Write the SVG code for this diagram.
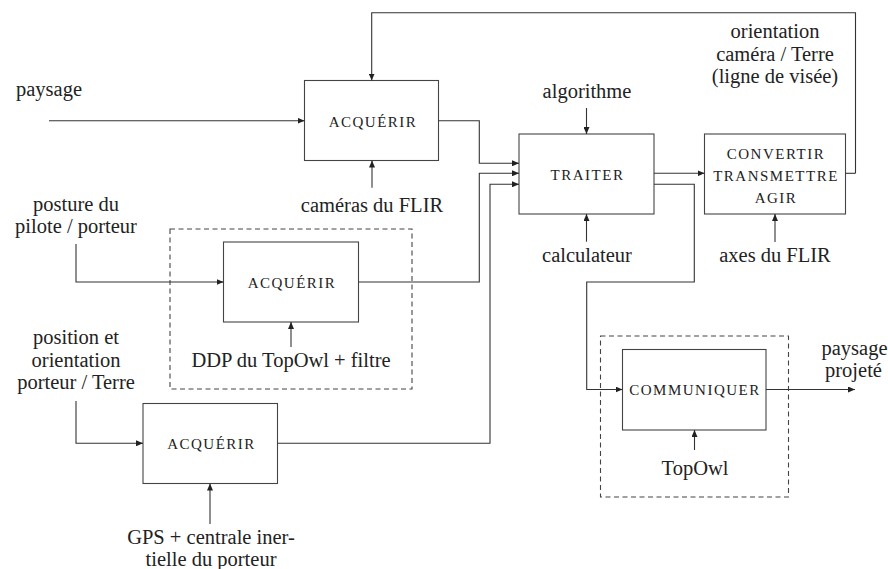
<svg xmlns="http://www.w3.org/2000/svg" width="888" height="569" viewBox="0 0 888 569">
<defs>
<marker id="ah" viewBox="0 0 7 6" refX="7" refY="3" markerWidth="7" markerHeight="6" markerUnits="userSpaceOnUse" orient="auto">
<path d="M0,0 L7,3 L0,6 z" fill="#222"/>
</marker>
</defs>
<style>
.box{fill:none;stroke:#444;stroke-width:1.1}
.dash{fill:none;stroke:#444;stroke-width:1.1;stroke-dasharray:5 3.5}
.ln{fill:none;stroke:#333;stroke-width:1.1}
.arr{fill:none;stroke:#333;stroke-width:1.1;marker-end:url(#ah)}
.t{font-family:"Liberation Serif","Times New Roman",serif;font-size:20.5px;fill:#222;text-anchor:middle}
.sc{font-family:"Liberation Serif","Times New Roman",serif;font-size:15px;letter-spacing:1.5px;fill:#222;text-anchor:middle}
</style>
<rect width="888" height="569" fill="#fff"/>
<g id="groups">
<rect id="dash1" class="dash" x="170" y="229" width="242" height="160"/>
<rect id="dash2" class="dash" x="600.5" y="336" width="188" height="161"/>
</g>
<g id="acq1">
<rect class="box" x="304.5" y="80.5" width="134" height="80"/>
<text class="sc" x="373" y="126.5">ACQUÉRIR</text>
</g>
<g id="acq2">
<rect class="box" x="223.5" y="242" width="135" height="80"/>
<text class="sc" x="292" y="287.5">ACQUÉRIR</text>
</g>
<g id="acq3">
<rect class="box" x="143" y="403.5" width="134.5" height="80"/>
<text class="sc" x="211.5" y="449">ACQUÉRIR</text>
</g>
<g id="traiter">
<rect class="box" x="519" y="134" width="135" height="80"/>
<text class="sc" x="587.5" y="179.5">TRAITER</text>
</g>
<g id="convertir">
<rect class="box" x="704.5" y="134" width="141" height="80"/>
<text class="sc" x="776" y="158.5">CONVERTIR</text>
<text class="sc" x="776" y="180.5">TRANSMETTRE</text>
<text class="sc" x="776" y="202.5">AGIR</text>
</g>
<g id="communiquer">
<rect class="box" x="622.5" y="349.5" width="143.5" height="80.5"/>
<text class="sc" x="695" y="394.5">COMMUNIQUER</text>
</g>
<g id="labels">
<text class="t" x="49" y="96">paysage</text>
<text class="t" x="372" y="212">caméras du FLIR</text>
<text class="t" x="76" y="211">posture du</text>
<text class="t" x="76" y="233">pilote / porteur</text>
<text class="t" x="291" y="367">DDP du TopOwl + filtre</text>
<text class="t" x="76" y="344">position et</text>
<text class="t" x="76" y="366.5">orientation</text>
<text class="t" x="76" y="389">porteur / Terre</text>
<text class="t" x="211" y="544">GPS + centrale iner-</text>
<text class="t" x="211" y="566">tielle du porteur</text>
<text class="t" x="587" y="98">algorithme</text>
<text class="t" x="587" y="261.5">calculateur</text>
<text class="t" x="775" y="38">orientation</text>
<text class="t" x="775" y="61">caméra / Terre</text>
<text class="t" x="775" y="83">(ligne de visée)</text>
<text class="t" x="775" y="262">axes du FLIR</text>
<text class="t" x="854.5" y="355">paysage</text>
<text class="t" x="853.5" y="376.5">projeté</text>
<text class="t" x="695" y="475">TopOwl</text>
</g>
<g id="connectors">
<path class="arr" d="M49,120.7 H304.5"/>
<path class="arr" d="M855.5,173.3 V12.7 H371.7 V80.5"/>
<path class="ln" d="M845.5,173.3 H855.5"/>
<path class="arr" d="M372,187.7 V160.5"/>
<path class="arr" d="M76,244 V282 H223.5"/>
<path class="arr" d="M291,347 V322"/>
<path class="arr" d="M76,401 V443.3 H143"/>
<path class="arr" d="M210,524 V483.5"/>
<path class="arr" d="M438.5,120.7 H479.3 V163.3 H519"/>
<path class="arr" d="M358.5,282 H479.3 V173.3 H519"/>
<path class="arr" d="M277.5,443.3 H490 V184.3 H519"/>
<path class="arr" d="M586.5,108 V134"/>
<path class="arr" d="M586.5,241.7 V214"/>
<path class="arr" d="M654,173.3 H704.5"/>
<path class="arr" d="M775,242 V214"/>
<path class="arr" d="M654,184.3 H694.3 V282 H586.7 V389.5 H622.5"/>
<path class="arr" d="M766,389.5 H855"/>
<path class="arr" d="M694.5,450 V430"/>
</g>
</svg>
